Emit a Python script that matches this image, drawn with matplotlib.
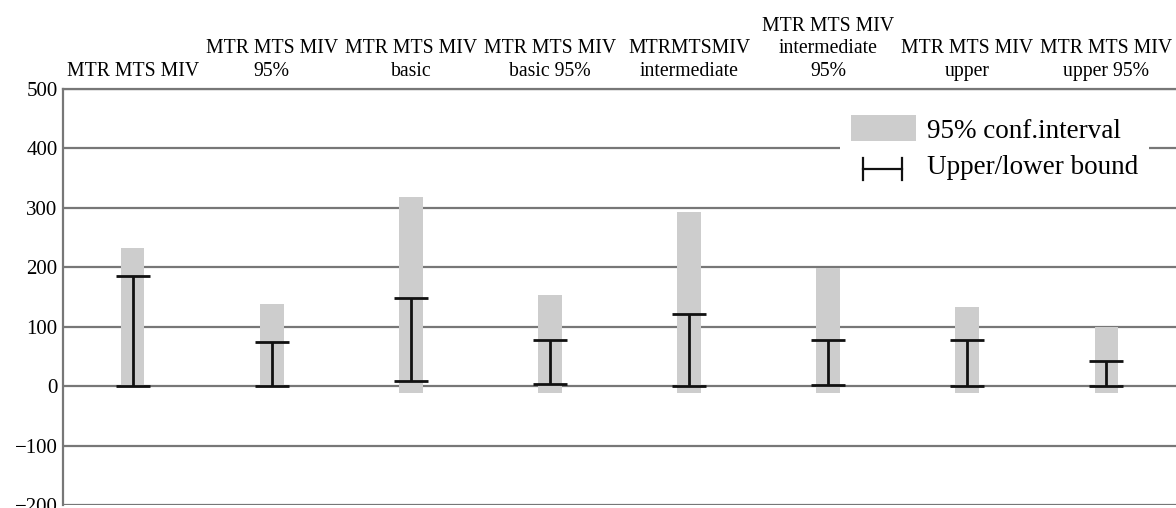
import numpy as np
import matplotlib
matplotlib.use("Agg")
import matplotlib.pyplot as plt
from matplotlib.patches import Patch
from matplotlib.lines import Line2D
from matplotlib.legend_handler import HandlerBase

labels = ["MTR MTS MIV", "MTR MTS MIV\n95%", "MTR MTS MIV\nbasic",
          "MTR MTS MIV\nbasic 95%", "MTRMTSMIV\nintermediate",
          "MTR MTS MIV\nintermediate\n95%", "MTR MTS MIV\nupper",
          "MTR MTS MIV\nupper 95%"]
ci_low = [0, 0, -12, -12, -12, -12, -12, -12]
ci_high = [233, 138, 318, 153, 293, 198, 133, 100]
bound_low = [0, 0, 8, 3, 0, 2, 0, 0]
bound_high = [186, 74, 149, 77, 121, 77, 77, 42]
yticks = [-200, -100, 0, 100, 200, 300, 400, 500]

plt.rcParams['font.family'] = ['Liberation Serif', 'DejaVu Serif']

fig = plt.figure(figsize=(11.76, 5.08), dpi=100)
ax = fig.add_axes([0.0536, 0.006, 0.9464, 0.8189])

x = np.arange(len(labels))
lo = np.array(ci_low)
hi = np.array(ci_high)
ax.bar(x, hi - lo, bottom=lo, width=0.17, color='#cdcdcd', zorder=2)

blo = np.array(bound_low)
bhi = np.array(bound_high)
mid = (blo + bhi) / 2
ax.errorbar(x, mid, yerr=[mid - blo, bhi - mid], fmt='none', ecolor='#111111',
            elinewidth=2, capsize=12, capthick=2, zorder=3)

ax.set_xlim(-0.5, 7.5)
ax.set_ylim(-200, 500)
ax.set_yticks(yticks)
ax.set_yticklabels([f"{v}".replace("-", "\u2212") for v in yticks])
ax.yaxis.grid(True, color='#777777', linewidth=1.6, zorder=0)
ax.set_axisbelow(True)

ax.xaxis.tick_top()
ax.set_xticks(x)
ax.set_xticklabels(labels, fontsize=14.2, linespacing=1.25)
ax.tick_params(axis='x', length=0, pad=6)
ax.tick_params(axis='y', length=0, pad=4, labelsize=15)

for s in ['right', 'bottom']:
    ax.spines[s].set_visible(False)
for s in ['left', 'top']:
    ax.spines[s].set_color('#777777')
    ax.spines[s].set_linewidth(1.6)


class HandlerBound(HandlerBase):
    def create_artists(self, legend, orig_handle, xdescent, ydescent,
                       width, height, fontsize, trans):
        y = height * 0.35 - ydescent
        x0 = width * 0.18 - xdescent
        x1 = width * 0.78 - xdescent
        h = height * 0.42
        line = Line2D([x0, x1], [y, y], color='#111111', lw=1.6, transform=trans)
        c0 = Line2D([x0, x0], [y - h, y + h], color='#111111', lw=1.6, transform=trans)
        c1 = Line2D([x1, x1], [y - h, y + h], color='#111111', lw=1.6, transform=trans)
        return [line, c0, c1]


bound_handle = Line2D([], [])
handles = [Patch(facecolor='#cdcdcd', edgecolor='none'), bound_handle]
leg = ax.legend(handles, ["95% conf.interval", "Upper/lower bound"],
                handler_map={Line2D: HandlerBound()},
                loc='upper right', bbox_to_anchor=(0.988, 0.995),
                fontsize=19.5, frameon=True, facecolor='white', edgecolor='none',
                framealpha=1, fancybox=False, handlelength=2.4,
                handleheight=1.1, labelspacing=0.3, borderpad=0.4,
                handletextpad=0.4)
leg.set_zorder(5)

fig.savefig("out.png", dpi=100)
